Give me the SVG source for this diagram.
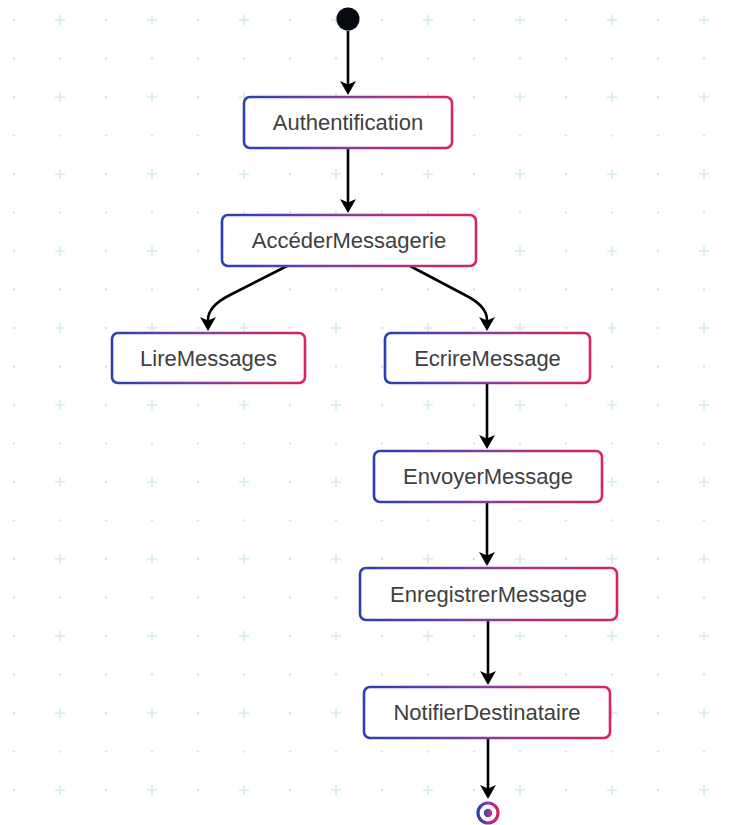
<svg xmlns="http://www.w3.org/2000/svg" width="747" height="825" viewBox="0 0 747 825">
<defs>
<pattern id="grid" x="-9" y="1" width="92" height="77" patternUnits="userSpaceOnUse">
<circle cx="23" cy="19" r="1.2" fill="#e0e0e0"/>
<path d="M64,19 H74 M69,14 V24" stroke="#d3ece8" stroke-width="1.5"/>
<circle cx="23" cy="57.5" r="1.2" fill="#e0e0e0"/>
<circle cx="69" cy="57.5" r="1.2" fill="#e0e0e0"/>
</pattern>
<linearGradient id="edge" x1="0" y1="0" x2="1" y2="0">
<stop offset="0" stop-color="#2b3fb5"/>
<stop offset="0.5" stop-color="#8a3a9e"/>
<stop offset="1" stop-color="#d9255a"/>
</linearGradient>
<marker id="arr" markerUnits="userSpaceOnUse" markerWidth="16" markerHeight="18" refX="10" refY="8" orient="auto">
<path d="M0,0 L14,8 L0,16 L3.5,8 Z" fill="#000"/>
</marker>
<style>
.box{fill:#fff;stroke:url(#edge);stroke-width:2.6}
.lbl{font-family:"Liberation Sans",Arial,sans-serif;font-size:22px;fill:#404040;text-anchor:middle}
.con{fill:none;stroke:#000;stroke-width:2.6;marker-end:url(#arr)}
</style>
</defs>
<rect width="747" height="825" fill="#fff"/>
<rect width="747" height="825" fill="url(#grid)"/>

<g id="connectors">
<path class="con" d="M348,31 V91"/>
<path class="con" d="M348,148 V209"/>
<path class="con" d="M287,266 L230,295 Q208,306 208,320 V327"/>
<path class="con" d="M410,266 L465,295 Q487,306 487,320 V327"/>
<path class="con" d="M487,383 V445"/>
<path class="con" d="M487,502 V562"/>
<path class="con" d="M488,620 V681"/>
<path class="con" d="M488,738 V795"/>
</g>

<g id="start"><circle cx="348" cy="19" r="11.5" fill="#0a0a12"/></g>

<g id="n-auth"><rect class="box" x="244" y="97" width="208" height="51" rx="6"/><text class="lbl" x="348" y="130">Authentification</text></g>
<g id="n-acceder"><rect class="box" x="222" y="215" width="254" height="51" rx="6"/><text class="lbl" x="349" y="248">AccéderMessagerie</text></g>
<g id="n-lire"><rect class="box" x="112" y="333" width="193" height="50" rx="6"/><text class="lbl" x="208.5" y="366">LireMessages</text></g>
<g id="n-ecrire"><rect class="box" x="385" y="333" width="205" height="50" rx="6"/><text class="lbl" x="487.5" y="366">EcrireMessage</text></g>
<g id="n-envoyer"><rect class="box" x="374" y="451" width="228" height="51" rx="6"/><text class="lbl" x="488" y="484">EnvoyerMessage</text></g>
<g id="n-enregistrer"><rect class="box" x="360" y="568" width="257" height="52" rx="6"/><text class="lbl" x="488.5" y="602">EnregistrerMessage</text></g>
<g id="n-notifier"><rect class="box" x="364" y="687" width="246" height="51" rx="6"/><text class="lbl" x="487" y="720">NotifierDestinataire</text></g>

<g id="end">
<circle cx="488" cy="813" r="10" fill="#fff" stroke="url(#edge)" stroke-width="3.2"/>
<circle cx="488" cy="813" r="4.2" fill="url(#edge)"/>
</g>
</svg>
